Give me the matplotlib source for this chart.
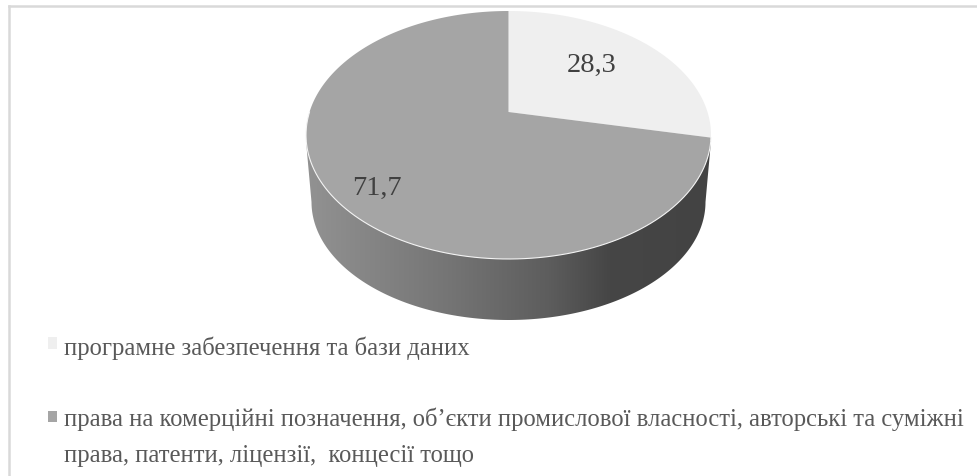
import matplotlib
matplotlib.use('Agg')
import matplotlib.pyplot as plt
import numpy as np
from matplotlib.colors import LinearSegmentedColormap
from matplotlib.patches import Polygon

# values from the chart
categories = ['програмне забезпечення та бази даних',
              'права на комерційні позначення, об’єкти промислової власності, авторські та суміжні\nправа, патенти, ліцензії,  концесії тощо']
values = [28.3, 71.7]
value_labels = ['28,3', '71,7']
colors = ['#efefef', '#a5a5a5']

plt.rcParams['font.family'] = ['Liberation Serif', 'DejaVu Serif']

fig = plt.figure(figsize=(9.78, 4.77), dpi=100)
ax = fig.add_axes([0, 0, 1, 1])
ax.set_xlim(0, 978)
ax.set_ylim(477, 0)
ax.axis('off')

# pie geometry in image pixels
cx, cy = 508.5, 136
a, b = 202.5, 124
apex = 23            # how far the tilted centre sits above the middle of the ellipse
c = apex / b


def top_face(theta):
    # theta clockwise from 12 o'clock, pushed through the perspective of the tilt
    u, v = np.sin(theta), np.cos(theta)
    w = 1 + c * v
    x = a * np.sqrt(1 - c ** 2) * u / w
    y = (b * v + apex) / w
    return cx + x, cy - y


# chart frame
ax.plot([9, 9], [477, 7], color='#d9d9d9', lw=1.8, solid_capstyle='projecting')
ax.plot([9, 978], [7.3, 7.3], color='#d9d9d9', lw=1.8, solid_capstyle='projecting')

# side wall with gradient
t = np.linspace(0, np.pi, 200)
low_x = cx + 197 * np.cos(t)
low_y = 203 + 118 * np.sin(t)
wall = np.column_stack([
    np.r_[cx - a, low_x[::-1], cx + a],
    np.r_[cy + 6, low_y[::-1], cy + 6],
])
wall_cmap = LinearSegmentedColormap.from_list('wall', [
    (0.0, '#929292'), (0.35, '#757575'), (0.6, '#5d5d5d'), (0.75, '#464646'), (1.0, '#434343')])
gradient = np.linspace(0, 1, 256).reshape(1, -1)
img = ax.imshow(gradient, cmap=wall_cmap, extent=[306, 711, 330, 130], aspect='auto', zorder=1)
img.set_clip_path(Polygon(wall, transform=ax.transData))
ax.set_xlim(0, 978)
ax.set_ylim(477, 0)

# top faces, sized by the values
total = sum(values)
start = 0
for val, col in zip(values, colors):
    sweep = val / total * 2 * np.pi
    th = np.linspace(start, start + sweep, 300)
    x, y = top_face(th)
    ax.fill(np.r_[cx, x], np.r_[cy - apex, y], color=col, lw=0, zorder=2)
    start += sweep

# thin white rim on the front edge
rim = np.linspace(values[0] / total * 2 * np.pi, 1.5 * np.pi, 200)
ax.plot(*top_face(rim), color='#f4f4f4', lw=0.8, zorder=3)

ax.text(592, 65, value_labels[0], fontsize=20.5, color='#404040', ha='center', va='center', zorder=4)
ax.text(377, 188, value_labels[1], fontsize=20.5, color='#404040', ha='center', va='center', zorder=4)

# legend
ax.fill([48, 57, 57, 48], [338, 338, 350, 350], color=colors[0], lw=0)
ax.fill([48, 57, 57, 48], [412, 412, 423, 423], color=colors[1], lw=0)
ax.text(64, 348, categories[0], fontsize=17.75, color='#595959', ha='left', va='center')
ax.text(64, 437, categories[1], fontsize=17.75, color='#595959', ha='left', va='center', linespacing=1.8)

fig.savefig('out.png', dpi=100)
